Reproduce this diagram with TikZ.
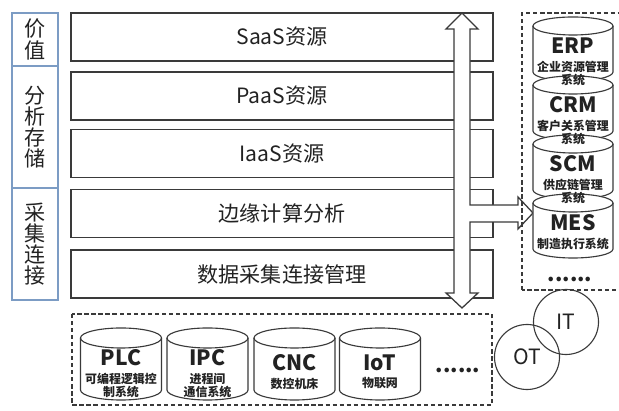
\documentclass[tikz,border=0pt]{standalone}
\usepackage{fontspec}
\setmainfont{Noto Sans CJK SC}
\usetikzlibrary{positioning}
\definecolor{ink}{HTML}{222222}
\definecolor{frame}{HTML}{3A3A3A}
\definecolor{steel}{HTML}{7C9CC4}
\tikzset{
  base/.style={align=center, inner sep=0pt, text=ink, font=\fontsize{15}{15}\selectfont},
  layer/.style={base, draw=frame, line width=0.9pt, minimum width=10.55cm, minimum height=1.2cm},
  side/.style={base, draw=steel, line width=0.9pt, minimum width=1.15cm, outer sep=0pt},
  dbbox/.style={inner sep=0pt, outer sep=0pt},
  dbline/.style={draw=frame, line width=0.8pt},
  dbname/.style={base, font=\fontsize{15}{15}\selectfont\bfseries},
  dbnote/.style={base, font=\fontsize{8.5}{9.5}\selectfont\bfseries},
  zone/.style={draw=frame, line width=0.8pt, dash pattern=on 3pt off 2pt},
  ring/.style={base, circle, draw=frame, line width=0.8pt, minimum size=1.625cm},
  dots/.style={base, font=\fontsize{15}{15}\selectfont\bfseries},
}
% drum outline round an empty node: #1 node, #2 half width, #3 ellipse radius
\newcommand\drum[3]{%
  \draw[dbline, fill=white] ([yshift=-#3]#1.north west) -- ([yshift=#3]#1.south west)
    arc[start angle=180, end angle=360, x radius=#2, y radius=#3]
    -- ([yshift=-#3]#1.north east)
    arc[start angle=0, end angle=180, x radius=#2, y radius=#3] -- cycle;
  \draw[dbline] ([yshift=-#3]#1.north west)
    arc[start angle=180, end angle=360, x radius=#2, y radius=#3];
}
\begin{document}
\begin{tikzpicture}[x=0.025cm, y=-0.025cm]
  \useasboundingbox (0,0) rectangle (619,411);

  % the five layers
  \foreach \y/\name/\txt in {37/saas/SaaS资源, 96/paas/PaaS资源, 153.5/iaas/IaaS资源,
      213.5/mec/边缘计算分析, 274/collect/数据采集连接管理}
    \node[layer] (\name) at (282,\y) {\txt};

  % side column
  \node[side, minimum height=1.325cm] (value) at (35,39.5) {价\\值};
  \node[side, minimum height=3.05cm, below=0pt of value] (analysis) {分\\析\\存\\储};
  \node[side, minimum height=2.8cm, below=0pt of analysis] (gather) {采\\集\\连\\接};

  % up/down flow with the branch to the right
  \draw[draw=frame, line width=0.9pt, fill=white]
    (462,13) -- (478,29) -- (470,29) -- (470,205) -- (518,205) -- (518,197)
    -- (533,213) -- (518,229) -- (518,222) -- (470,222) -- (470,293) -- (478,293)
    -- (462,308) -- (446,293) -- (454,293) -- (454,29) -- (446,29) -- cycle;

  % business systems
  \draw[zone] (522,290) rectangle (640,13);
  \foreach \name/\i in {erp/0, crm/1, scm/2, mes/3} {
    \node[dbbox, minimum width=2cm, minimum height=1.6cm] (\name) at (573,{49+59*\i}) {};
    \drum{\name}{1cm}{0.225cm}
  }
  \foreach \name/\title/\note in {erp/ERP/{企业资源管理\\系统}, crm/CRM/{客户关系管理\\系统},
      scm/SCM/{供应链管理\\系统}, mes/MES/制造执行系统} {
    \node[dbname] (\name-t) at ([yshift=0.075cm]\name.center) {\title};
    \node[dbnote, below=0.16cm of \name-t] (\name-n) {\note};
  }
  \node[dots] (more-it) at (570,279) {......};

  % field devices
  \draw[zone] (72,314) rectangle (492,405);
  \foreach \name/\title/\note/\x/\dy in {plc/PLC/{可编程逻辑控\\制系统}/121/0.15,
      ipc/IPC/{进程间\\通信系统}/207.5/0.15, cnc/CNC/数控机床/294.5/0.03, iot/IoT/物联网/380/0.03} {
    \node[dbbox, minimum width=2.025cm, minimum height=1.8cm] (\name) at (\x,364) {};
    \drum{\name}{1.0125cm}{0.25cm}
    \node[dbname] (\name-t) at ([yshift=\dy cm]\name.center) {\title};
    \node[dbnote, below=0.16cm of \name-t] (\name-n) {\note};
  }
  \node[dots] (more-ot) at (458,370) {......};

  % OT and IT
  \node[ring] (ot) at (527,357) {OT};
  \node[ring] (it) at (566,322) {IT};
\end{tikzpicture}
\end{document}
